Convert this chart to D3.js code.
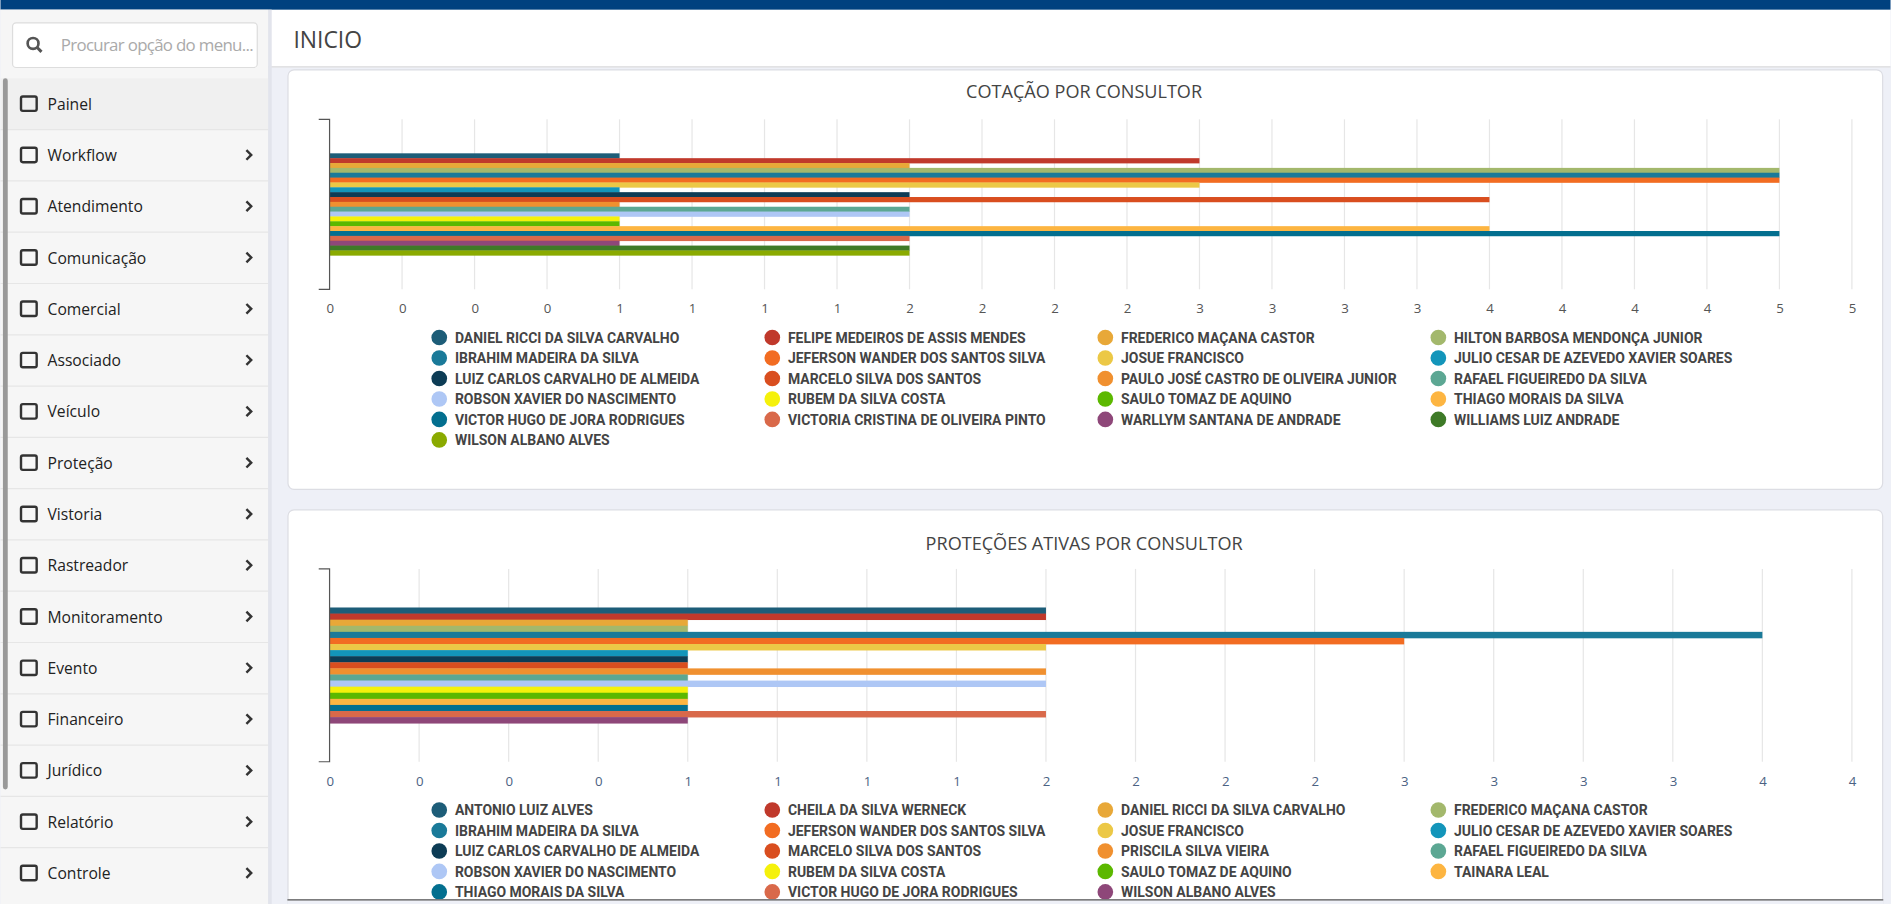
<!DOCTYPE html>
<html><head><meta charset="utf-8">
<script src="https://cdn.jsdelivr.net/npm/d3@7/dist/d3.min.js"></script>
<style>html,body{margin:0;padding:0;overflow:hidden;background:#eef0f7}</style>
</head><body>
<svg id="c" width="1891" height="904" viewBox="0 0 1568 750"></svg>
<script>
const palette = ["#1d5d78","#c0392b","#e8a838","#a3b86c","#1a7a99","#f26c22","#ecc846","#1395ba","#0d3c55","#d94e1f","#f0902f","#5ca793","#aec7f5","#f5f10b","#5cb800","#fdb541","#036f8f","#d9694a","#8e4779","#3e7a27","#8aaa00"];
const menuItems = ["Painel","Workflow","Atendimento","Comunicação","Comercial","Associado","Veículo","Proteção","Vistoria","Rastreador","Monitoramento","Evento","Financeiro","Jurídico","Relatório","Controle"];

const cotacaoNames = ["DANIEL RICCI DA SILVA CARVALHO","FELIPE MEDEIROS DE ASSIS MENDES","FREDERICO MAÇANA CASTOR","HILTON BARBOSA MENDONÇA JUNIOR","IBRAHIM MADEIRA DA SILVA","JEFERSON WANDER DOS SANTOS SILVA","JOSUE FRANCISCO","JULIO CESAR DE AZEVEDO XAVIER SOARES","LUIZ CARLOS CARVALHO DE ALMEIDA","MARCELO SILVA DOS SANTOS","PAULO JOSÉ CASTRO DE OLIVEIRA JUNIOR","RAFAEL FIGUEIREDO DA SILVA","ROBSON XAVIER DO NASCIMENTO","RUBEM DA SILVA COSTA","SAULO TOMAZ DE AQUINO","THIAGO MORAIS DA SILVA","VICTOR HUGO DE JORA RODRIGUES","VICTORIA CRISTINA DE OLIVEIRA PINTO","WARLLYM SANTANA DE ANDRADE","WILLIAMS LUIZ ANDRADE","WILSON ALBANO ALVES"];
const cotacaoValues = [1,3,2,5,5,5,3,1,2,4,1,2,2,1,1,4,5,2,1,2,2];
const cotacaoTicks = d3.range(0,22).map(i=>i*0.25);

const protecaoNames = ["ANTONIO LUIZ ALVES","CHEILA DA SILVA WERNECK","DANIEL RICCI DA SILVA CARVALHO","FREDERICO MAÇANA CASTOR","IBRAHIM MADEIRA DA SILVA","JEFERSON WANDER DOS SANTOS SILVA","JOSUE FRANCISCO","JULIO CESAR DE AZEVEDO XAVIER SOARES","LUIZ CARLOS CARVALHO DE ALMEIDA","MARCELO SILVA DOS SANTOS","PRISCILA SILVA VIEIRA","RAFAEL FIGUEIREDO DA SILVA","ROBSON XAVIER DO NASCIMENTO","RUBEM DA SILVA COSTA","SAULO TOMAZ DE AQUINO","TAINARA LEAL","THIAGO MORAIS DA SILVA","VICTOR HUGO DE JORA RODRIGUES","WILSON ALBANO ALVES"];
const protecaoValues = [2,2,1,1,4,3,2,1,1,1,2,1,2,1,1,1,1,2,1];
const protecaoTicks = d3.range(0,18).map(i=>i*0.25);

const svg = d3.select("#c");
const F = "'Roboto',sans-serif";

svg.append("rect").attr("width",1568).attr("height",750).attr("fill","#eef0f7");
svg.append("rect").attr("x",222).attr("y",8).attr("width",1346).attr("height",47).attr("fill","#fff");
svg.append("line").attr("x1",222).attr("x2",1568).attr("y1",55.5).attr("y2",55.5).attr("stroke","#ddd");
svg.append("text").attr("x",243).attr("y",40).text("INICIO").attr("font-family","'Open Sans',sans-serif").attr("font-size",19).attr("fill","#444");
svg.append("rect").attr("width",1568).attr("height",8).attr("fill","#00417f");

svg.append("rect").attr("x",0).attr("y",8).attr("width",222).attr("height",742).attr("fill","#f6f6f6");
svg.append("rect").attr("x",222).attr("y",8).attr("width",3).attr("height",742).attr("fill","#e2e4ec");
svg.append("rect").attr("x",10).attr("y",19).attr("width",203).attr("height",37).attr("rx",3).attr("fill","#fff").attr("stroke","#ddd");
svg.append("circle").attr("cx",27).attr("cy",36).attr("r",4.5).attr("fill","none").attr("stroke","#555").attr("stroke-width",2.2);
svg.append("line").attr("x1",30).attr("y1",39).attr("x2",34).attr("y2",43).attr("stroke","#555").attr("stroke-width",2.5);
svg.append("text").attr("x",50).attr("y",42).text("Procurar opção do menu...").attr("font-family","'Open Sans',sans-serif").attr("font-size",14).attr("fill","#aaa").attr("textLength",160);
svg.append("rect").attr("x",0).attr("y",65).attr("width",222).attr("height",42).attr("fill","#f0f0f0");
menuItems.forEach((m,i)=>{
  const y = 86 + i*42.55;
  svg.append("rect").attr("x",17).attr("y",y-6).attr("width",13).attr("height",12).attr("rx",1.5).attr("fill","none").attr("stroke","#333").attr("stroke-width",2);
  svg.append("text").attr("x",39).attr("y",y+5).text(m).attr("font-family","'Open Sans',sans-serif").attr("font-size",13).attr("fill","#222");
  if(i>0){
    svg.append("path").attr("d",`M204,${y-4}L208,${y}L204,${y+4}`).attr("fill","none").attr("stroke","#333").attr("stroke-width",2);
    svg.append("line").attr("x1",0).attr("x2",222).attr("y1",y-21).attr("y2",y-21).attr("stroke","#e6e6e6");
  }
});
svg.append("rect").attr("x",2).attr("y",65).attr("width",4).attr("height",590).attr("rx",2).attr("fill","#999");

function chart(cfg){
  const g = svg.append("g");
  g.append("rect").attr("x",238.5).attr("y",cfg.cardY).attr("width",1323).attr("height",cfg.cardH).attr("rx",5).attr("fill","#fff").attr("stroke","#dcdde3");
  g.append("text").attr("x",899).attr("y",cfg.titleY).attr("text-anchor","middle").text(cfg.title).attr("font-family","'Open Sans',sans-serif").attr("font-size",15).attr("fill","#444");
  const x = d3.scaleLinear().domain([0, cfg.ticks[cfg.ticks.length-1]]).range([273,1536]);
  g.selectAll(".gl").data(cfg.ticks.slice(1)).join("line").attr("x1",d=>x(d)).attr("x2",d=>x(d)).attr("y1",cfg.y0).attr("y2",cfg.y1).attr("stroke","#e6e6e6");
  const h = cfg.y1-cfg.y0;
  const y = d3.scaleBand().domain(d3.range(cfg.values.length)).range([cfg.y0+0.2*h, cfg.y0+0.8*h]);
  g.selectAll(".b").data(cfg.values).join("rect").attr("x",x(0)).attr("y",(d,i)=>y(i)).attr("width",d=>x(d)-x(0)).attr("height",y.bandwidth()+0.3).attr("fill",(d,i)=>palette[i]);
  g.append("path").attr("d",`M264,${cfg.y0}H273V${cfg.y1}H264`).attr("fill","none").attr("stroke","#555");
  const ax = g.append("g").attr("transform",`translate(0,${cfg.y1})`).call(d3.axisBottom(x).tickValues(cfg.ticks).tickFormat(d=>Math.floor(d)).tickSize(0).tickPadding(12));
  ax.select(".domain").remove();
  ax.selectAll("text").attr("font-family","'Open Sans',sans-serif").attr("font-size",11).attr("fill",cfg.tickColor);
  cfg.names.forEach((n,i)=>{
    const col=i%4,row=Math.floor(i/4);
    const lx=364+col*276.3, ly=cfg.legY+row*17;
    g.append("circle").attr("cx",lx).attr("cy",ly).attr("r",6.5).attr("fill",palette[i]);
    g.append("text").attr("x",lx+13).attr("y",ly+4.5).text(n).attr("font-family",F).attr("font-weight","bold").attr("font-size",12.2).attr("fill","#444").attr("transform",`translate(${lx+13},0) scale(0.95,1) translate(${-(lx+13)},0)`);
  });
}
chart({cardY:58,cardH:348,title:"COTAÇÃO POR CONSULTOR",titleY:81,y0:99,y1:240,ticks:cotacaoTicks,values:cotacaoValues,names:cotacaoNames,legY:280,tickColor:"#555"});
chart({cardY:423,cardH:360,title:"PROTEÇÕES ATIVAS POR CONSULTOR",titleY:456,y0:472,y1:632,ticks:protecaoTicks,values:protecaoValues,names:protecaoNames,legY:672,tickColor:"#4b6283"});
svg.append("rect").attr("x",238).attr("y",746).attr("width",1324).attr("height",4).attr("fill","#eef0f7");
svg.append("line").attr("x1",238).attr("x2",1562).attr("y1",746.5).attr("y2",746.5).attr("stroke","#555");
</script></body></html>
